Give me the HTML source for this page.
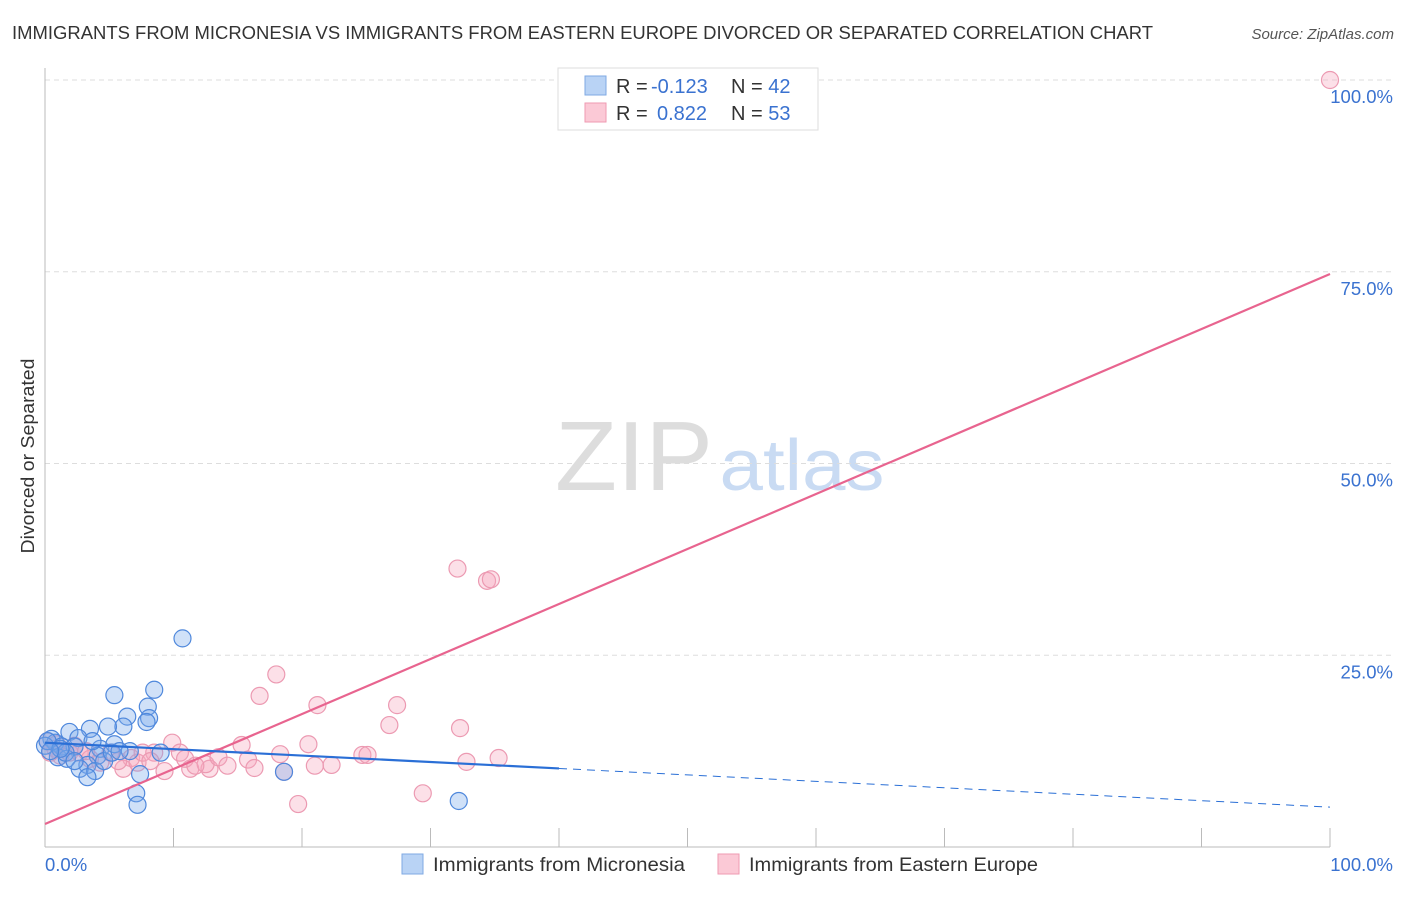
<!DOCTYPE html>
<html><head><meta charset="utf-8"><style>
body{margin:0;background:#fff;font-family:"Liberation Sans",sans-serif;}
svg text{font-family:"Liberation Sans",sans-serif;}
</style></head><body>
<svg id="chart" width="1406" height="892" xmlns="http://www.w3.org/2000/svg">
<text x="12" y="39" font-size="18" fill="#333" textLength="1141" lengthAdjust="spacingAndGlyphs">IMMIGRANTS FROM MICRONESIA VS IMMIGRANTS FROM EASTERN EUROPE DIVORCED OR SEPARATED CORRELATION CHART</text>
<text x="1394" y="39" font-size="15" fill="#555" font-style="italic" text-anchor="end">Source: ZipAtlas.com</text>
<text transform="translate(34,456) rotate(-90)" font-size="18.5" fill="#333" text-anchor="middle" textLength="195" lengthAdjust="spacingAndGlyphs">Divorced or Separated</text>
<g id="watermark">
<text x="634" y="490" font-size="98" fill="#ddd" font-family="Liberation Serif" text-anchor="middle" textLength="158" lengthAdjust="spacingAndGlyphs">ZIP</text>
<text x="802" y="490" font-size="72" fill="#c9dbf3" text-anchor="middle" textLength="165" lengthAdjust="spacingAndGlyphs">atlas</text>
</g>
<g id="grid"></g>
<g id="lines"></g>
<g id="pts"></g>
<g>
<rect x="558" y="68" width="260" height="62" fill="#fff" stroke="#ddd"/>
<rect x="585" y="76" width="21" height="19" fill="#b9d3f5" stroke="#7fa9e3"/>
<rect x="585" y="103" width="21" height="19" fill="#fbc9d6" stroke="#ef9ab2"/>
<text x="616" y="93" font-size="20" fill="#333">R = <tspan x="651" fill="#3a72d0">-0.123</tspan><tspan x="731">N = </tspan><tspan fill="#3a72d0">42</tspan></text>
<text x="616" y="120" font-size="20" fill="#333">R = <tspan x="657" fill="#3a72d0">0.822</tspan><tspan x="731">N = </tspan><tspan fill="#3a72d0">53</tspan></text>
</g>
<g>
<rect x="402" y="854" width="21" height="20" fill="#b9d3f5" stroke="#7fa9e3"/>
<text x="433" y="871" font-size="19.5" fill="#333" textLength="252" lengthAdjust="spacingAndGlyphs">Immigrants from Micronesia</text>
<rect x="718" y="854" width="21" height="20" fill="#fbc9d6" stroke="#ef9ab2"/>
<text x="749" y="871" font-size="19.5" fill="#333" textLength="289" lengthAdjust="spacingAndGlyphs">Immigrants from Eastern Europe</text>
</g>
</svg>
<script>
const yTicks=[25,50,75,100];
const yTickLabels=["25.0%","50.0%","75.0%","100.0%"];
const xTickLabels=["0.0%","100.0%"];
const blueX=[10.7,5.4,8.5,8.0,8.1,6.4,7.9,6.1,4.9,3.5,1.9,2.6,0.5,0.8,1.3,2.3,4.3,5.4,6.6,4.1,1.0,1.7,3.3,2.7,3.9,3.3,7.4,7.1,7.2,9.0,18.6,32.2,0,0.2,4.6,5.2,1.6,1.2,2.3,0.4,5.8,3.7];
const blueY=[27.2,19.8,20.5,18.3,16.8,17.0,16.3,15.7,15.7,15.4,15.0,14.2,14.1,13.6,13.1,13.1,12.8,13.4,12.5,11.9,11.7,11.5,10.7,10.2,9.9,9.1,9.5,7.0,5.5,12.3,9.8,6.0,13.2,13.8,11.2,12.3,12.3,12.8,11.2,12.5,12.5,13.8];
const pinkX=[100,32.1,34.4,34.7,18.0,16.7,21.2,27.4,26.8,32.3,15.3,18.3,20.5,9.9,8.5,6.7,5.1,6.1,9.3,11.3,12.8,12.5,13.5,14.2,15.8,16.3,21.0,22.3,24.7,25.1,32.8,35.3,18.6,19.7,29.4,0.2,0.8,1.2,1.9,2.7,3.5,4.3,5.7,7.2,7.6,10.5,10.9,11.7,0.9,2.3,0.4,3.2,8.2];
const pinkY=[100,36.3,34.7,34.9,22.5,19.7,18.5,18.5,15.9,15.5,13.3,12.1,13.4,13.6,12.3,11.6,12.3,10.2,9.9,10.2,10.2,10.8,11.7,10.6,11.4,10.3,10.6,10.7,12.0,12.0,11.1,11.6,9.8,5.6,7.0,13.8,12.8,11.9,12.3,12.3,11.5,11.0,11.2,11.0,12.3,12.3,11.5,10.6,13.4,13.2,12.3,12.5,11.2];
const blueTrend=[13.6,5.2]; const blueSolidEnd=40;
const pinkTrend=[3.0,74.7];
const NS="http://www.w3.org/2000/svg";
const X0=45,X1=1330,Y0=847,Y100=80;
const sx=v=>X0+(X1-X0)*v/100, sy=v=>Y0-(Y0-Y100)*v/100;
function mk(t,a,p){const e=document.createElementNS(NS,t);for(const k in a)e.setAttribute(k,a[k]);p.appendChild(e);return e;}
const g=document.getElementById('grid');
yTicks.forEach((t,i)=>{
 const l=mk('line',{x1:X0,x2:1394,y1:sy(t),y2:sy(t),stroke:'#ddd','stroke-dasharray':'5,4'},g);
 
 
 const tx=mk('text',{x:1393,y:sy(t)+23,'font-size':18.5,fill:'#3a72d0','text-anchor':'end'},g);
 tx.textContent=yTickLabels[i];
 
 
});
const ax=mk('line',{x1:X0,x2:X0,y1:68,y2:Y0,stroke:'#bbb'},g);


const bx=mk('line',{x1:X0,x2:X1,y1:Y0,y2:Y0,stroke:'#bbb'},g);


for(let i=1;i<=10;i++){
 const tk=mk('line',{x1:sx(i*10),x2:sx(i*10),y1:Y0-19,y2:Y0,stroke:'#bbb'},g);
 
 
}
[[0,'start',45],[100,'end',1393]].forEach(([v,a,x],i)=>{
 const t=mk('text',{x:x,y:871,'font-size':18.5,fill:'#3a72d0','text-anchor':a},g);
 t.textContent=xTickLabels[i];
 
 
});
const P=document.getElementById('pts');
function pts(xs,ys,fill,stroke,name){xs.forEach((x,i)=>{
 const c=mk('circle',{cx:sx(x),cy:sy(ys[i]),r:8.5,fill:fill,stroke:stroke,'stroke-width':1.2},P);
 
 
});}
pts(pinkX,pinkY,'rgba(246,165,190,0.35)','#ec9ab2','point-eastern-europe');
pts(blueX,blueY,'rgba(120,170,235,0.35)','#4f88dc','point-micronesia');
const L=document.getElementById('lines');
const by=x=>blueTrend[0]+(blueTrend[1]-blueTrend[0])*x/100;
const l1=mk('line',{x1:sx(0),y1:sy(pinkTrend[0]),x2:sx(100),y2:sy(pinkTrend[1]),stroke:'#e8648f','stroke-width':2.2},document.getElementById('chart'));


const l2=mk('line',{x1:sx(0),y1:sy(by(0)),x2:sx(blueSolidEnd),y2:sy(by(blueSolidEnd)),stroke:'#2a6fd6','stroke-width':2.2},document.getElementById('chart'));


const l3=mk('line',{x1:sx(blueSolidEnd),y1:sy(by(blueSolidEnd)),x2:sx(100),y2:sy(by(100)),stroke:'#2a6fd6','stroke-width':1,'stroke-dasharray':'8,6'},L);


</script>
</body></html>
